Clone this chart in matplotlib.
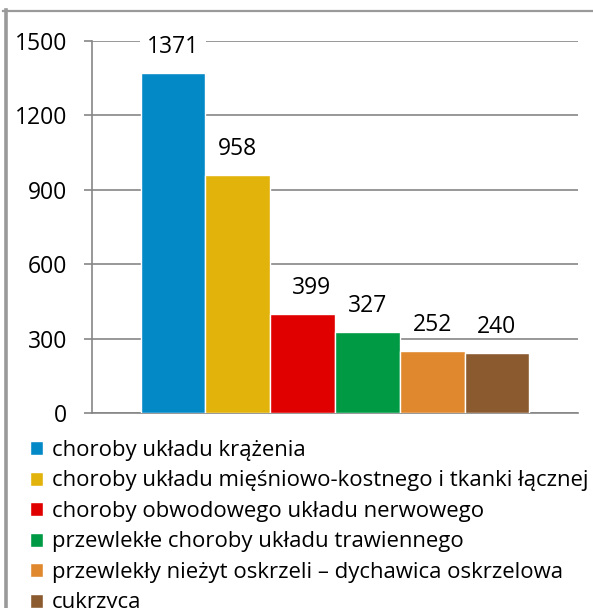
import matplotlib
matplotlib.use("Agg")
import matplotlib.pyplot as plt
from matplotlib.lines import Line2D

plt.rcParams['font.family'] = ['Open Sans', 'DejaVu Sans']

# data
categories = [
    "choroby układu krążenia",
    "choroby układu mięśniowo-kostnego i tkanki łącznej",
    "choroby obwodowego układu nerwowego",
    "przewlekłe choroby układu trawiennego",
    "przewlekły nieżyt oskrzeli – dychawica oskrzelowa",
    "cukrzyca",
]
values = [1371, 958, 399, 327, 252, 240]
yticks = [0, 300, 600, 900, 1200, 1500]

colors = ["#0489C7", "#E2B30A", "#E00000", "#009A44", "#E0882E", "#8B5A2F"]
grid_col = "#868686"

W, H = 593, 608
fig = plt.figure(figsize=(W / 100, H / 100), dpi=100)
ax = fig.add_axes([92 / W, 1 - 413 / H, (578 - 92) / W, (413 - 41) / H])

bars = []
for i, (v, lab, c) in enumerate(zip(values, categories, colors)):
    b = ax.bar(i, v, width=1.0, color=c, edgecolor="white", linewidth=1, label=lab, zorder=3)
    bars.append(b)

ax.set_xlim(-1.25, 6.25)
ax.set_ylim(0, 1500)
ax.set_yticks(yticks)
ax.set_xticks([])
ax.grid(axis="y", color=grid_col, linewidth=1.2, zorder=0)
for s in ["top", "right"]:
    ax.spines[s].set_visible(False)
for s in ["left", "bottom"]:
    ax.spines[s].set_color(grid_col)
    ax.spines[s].set_linewidth(1.2)
ax.tick_params(axis="y", length=6, width=1.2, color=grid_col, labelsize=16.5, pad=12)

# value labels above bars
shift = {2: 9}
for i, v in enumerate(values):
    kw = {}
    if i == 0:
        kw["bbox"] = dict(facecolor="white", edgecolor="none", pad=5)
    ax.annotate(str(v), (i, v), xytext=(shift.get(i, 0) * 0.72, 14.4),
                textcoords="offset points", ha="center", va="baseline",
                fontsize=16.5, zorder=4, **kw)

leg = ax.legend(handles=[b[0] for b in bars], labels=categories, loc="upper left",
                bbox_to_anchor=(30 / W, 1 - 440 / H), bbox_transform=fig.transFigure,
                frameon=False, fontsize=15.9, handlelength=0.58, handleheight=0.58,
                handletextpad=0.4, labelspacing=0.43, borderpad=0, borderaxespad=0)

# outer frame lines of the original picture
fig.add_artist(Line2D([3 / W, 1], [1 - 10.5 / H] * 2, transform=fig.transFigure,
                      color="#9a9a9a", linewidth=1.6))
fig.add_artist(Line2D([5.5 / W] * 2, [0, 1 - 10 / H], transform=fig.transFigure,
                      color="#9a9a9a", linewidth=2.6))

fig.savefig("out.png", dpi=100)
